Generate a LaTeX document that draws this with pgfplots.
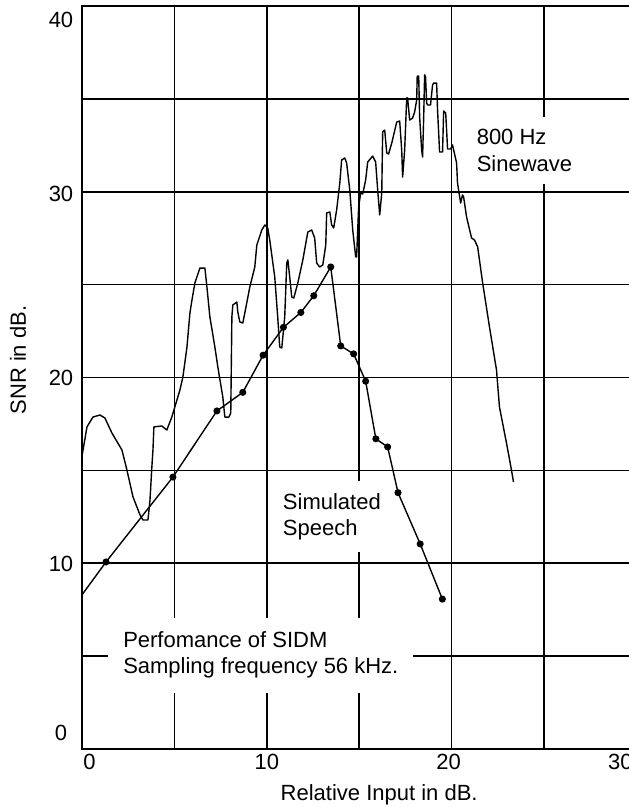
\documentclass[border=0pt]{standalone}
\usepackage{pgfplots}
\pgfplotsset{compat=1.18}
\usepackage{fontspec}
\setmainfont{Liberation Sans}
\newcommand{\F}{\fontsize{22bp}{26.5bp}\selectfont}
\begin{document}
\begin{tikzpicture}[font=\F]
\begin{axis}[
  x=18.48bp, y=18.575bp,
  xmin=0, xmax=30, ymin=0, ymax=40,
  xtick={0,10,20,30}, minor xtick={5,15,25},
  ytick={0,10,20,30,40}, minor ytick={5,15,25,35},
  xticklabels={\hspace*{15bp}0,10,20\hspace*{6bp},30\hspace*{32bp}},
  yticklabels={\raisebox{16bp}{0},\raisebox{0bp}{10},\raisebox{0bp}{20},\raisebox{-2bp}{30},\raisebox{-14bp}{40}},
  major tick length=0pt, minor tick length=0pt,
  grid=both,
  major grid style={black, line width=1.6bp},
  minor grid style={black, line width=1.6bp},
  axis line style={black, line width=1.6bp},
  tick label style={font=\F, black},
  yticklabel style={anchor=base, xshift=-21bp, yshift=-7.9bp},
  xticklabel style={anchor=north, yshift=-2bp},
  xlabel={Relative Input in dB.},
  ylabel={SNR in dB.},
  label style={font=\F},
  xlabel style={at={(axis description cs:0.536,-0.062)}, anchor=center},
  ylabel style={at={(axis description cs:-0.1155,0.5235)}, anchor=center, rotate=0},
]
\coordinate (O) at (axis cs:0,0);
\node[fill=white, anchor=west, align=left, inner xsep=10bp, inner ysep=12bp, font=\F] at (axis cs:20.81,32.22) {800 Hz\\Sinewave};
\node[fill=white, anchor=west, align=left, inner xsep=8bp, inner ysep=12bp, font=\F] at (axis cs:10.43,12.49) {Simulated\\Speech};
\node[fill=white, anchor=west, align=left, inner xsep=15bp, inner ysep=14bp, font=\F] at (axis cs:1.41,5.06) {Perfomance of SIDM\\Sampling frequency 56 kHz.};
% 800 Hz sinewave
\addplot[black, line width=1.4bp, line join=round] coordinates {
(0,15.77)(0.27,17.34)(0.59,17.87)(0.97,17.98)(1.24,17.82)(1.62,17.01)(2.16,16.10)(2.43,15.02)(2.76,13.57)(3.14,12.60)(3.30,12.33)(3.57,12.33)(3.68,13.41)(3.78,15.18)(3.84,16.10)(3.89,17.34)(4.32,17.39)(4.59,17.17)(4.86,17.87)(5.30,19.33)(5.46,20.03)(5.68,21.64)(5.84,23.47)(5.95,24.17)(6.11,25.09)(6.38,25.89)(6.65,25.89)(6.76,24.87)(6.92,23.26)(7.19,21.64)(7.35,20.57)(7.51,19.60)(7.62,18.95)(7.73,17.87)(7.95,17.87)(8.05,18.09)(8.11,23.26)(8.16,23.90)(8.38,24.06)(8.43,23.53)(8.54,22.99)(8.70,22.93)(8.81,23.47)(9.08,24.87)(9.35,25.95)(9.46,27.13)(9.73,27.94)(9.89,28.21)(10.05,28.05)(10.16,27.40)(10.43,25.41)(10.59,23.26)(10.70,21.64)(10.81,21.59)(10.97,23.26)(11.08,26.16)(11.14,26.33)(11.24,25.41)(11.35,24.33)(11.46,24.28)(11.68,25.09)(11.95,26.33)(12.22,27.83)(12.43,27.94)(12.59,27.51)(12.70,26.16)(12.86,25.95)(13.03,26.06)(13.19,27.13)(13.24,28.86)(13.41,28.91)(13.51,28.21)(13.62,28.05)(13.78,29.02)(13.95,30.47)(14.05,31.71)(14.22,31.82)(14.32,31.55)(14.49,30.09)(14.65,27.94)(14.81,26.49)(14.86,26.49)(14.97,29.18)(15.08,29.93)(15.19,29.88)(15.35,30.63)(15.46,31.60)(15.73,31.92)(15.89,31.60)(16.00,30.09)(16.11,28.75)(16.22,29.93)(16.27,33.22)(16.38,33.32)(16.49,32.09)(16.59,32.03)(16.76,32.62)(17.03,33.75)(17.19,33.81)(17.30,32.25)(17.35,30.79)(17.46,32.25)(17.57,35.05)(17.62,35.05)(17.73,33.86)(17.89,33.97)(18.00,34.29)(18.11,34.94)(18.14,36.23)(18.22,36.23)(18.27,34.02)(18.38,32.25)(18.43,31.87)(18.49,34.02)(18.54,36.29)(18.59,36.18)(18.65,34.78)(18.70,34.67)(18.86,34.67)(18.97,35.75)(19.03,35.85)(19.19,35.85)(19.24,34.40)(19.35,32.14)(19.51,32.14)(19.57,34.35)(19.68,34.24)(19.73,33.32)(19.78,32.30)(19.95,32.30)(20.05,32.52)(20.27,31.55)(20.32,30.47)(20.49,29.39)(20.59,29.83)(20.65,29.72)(20.81,28.64)(21.08,27.51)(21.24,27.40)(21.41,27.03)(21.68,25.09)(22.05,22.72)(22.43,20.40)(22.59,18.41)(22.97,16.47)(23.24,15.02)(23.35,14.37)
};
% simulated speech
\addplot[black, line width=1.4bp, mark=*, mark size=2.8bp, mark indices={2,...,18}] coordinates {
(0,8.3)(1.3,10.07)(4.92,14.64)(7.3,18.2)(8.7,19.2)(9.8,21.2)(10.9,22.7)(11.84,23.5)(12.54,24.4)(13.46,25.95)(14.0,21.7)(14.7,21.27)(15.35,19.8)(15.9,16.7)(16.54,16.26)(17.1,13.8)(18.3,11.04)(19.5,8.07)
};
\end{axis}
\pgfresetboundingbox
\useasboundingbox ([shift={(-82bp,-58bp)}]O) rectangle ([shift={(547bp,749bp)}]O);
\end{tikzpicture}
\end{document}
